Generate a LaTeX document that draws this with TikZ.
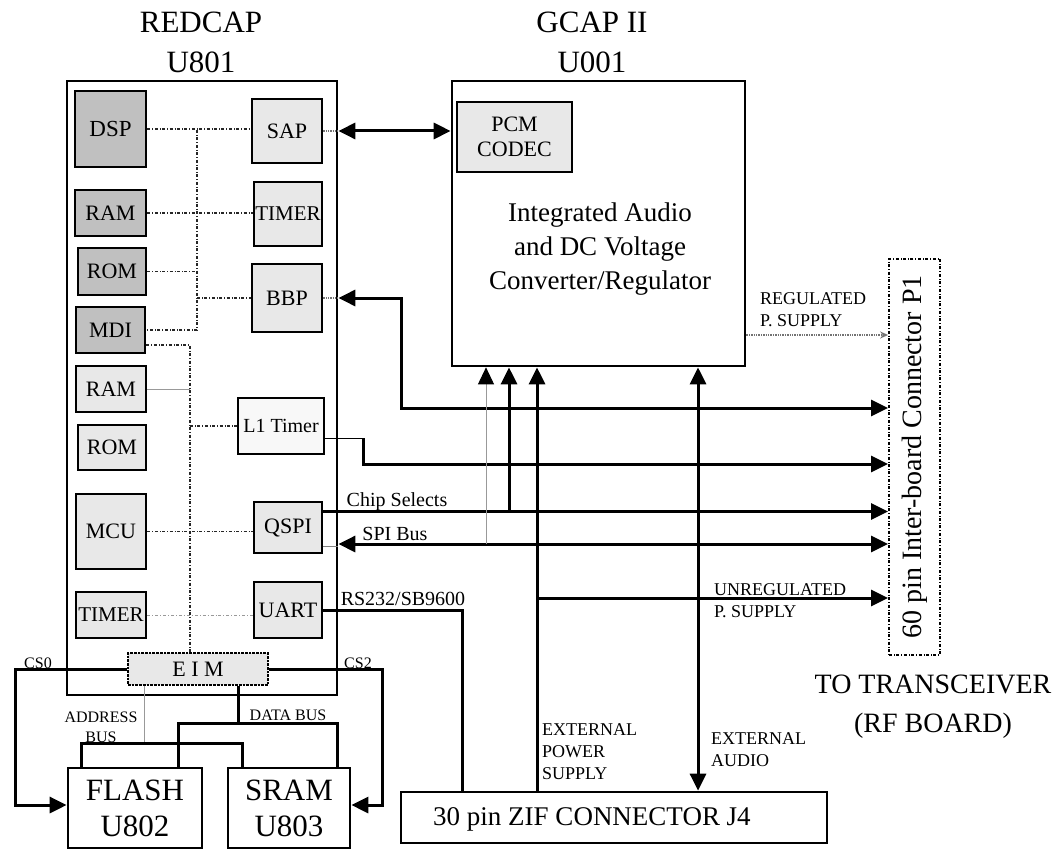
\documentclass[tikz,border=0pt]{standalone}
\usepackage{fontspec}
\setmainfont{Liberation Serif}
\usetikzlibrary{arrows.meta, calc}
\definecolor{darkBlock}{HTML}{C0C0C0}
\definecolor{lightBlock}{HTML}{E8E8E8}
\definecolor{paleBlock}{HTML}{F8F8F8}
\newcommand{\pxfont}[2]{\fontsize{#1}{#2}\selectfont}

\begin{document}
\begin{tikzpicture}[x=1pt, y=-1pt,
    >={Triangle[length=17pt, width=16pt]},
    blockbox/.style={draw, line width=2.7pt, inner sep=0pt, align=center},
    wire/.style={line width=3pt},
    bus/.style={dash dot, line width=1.5pt, black!85},
    faint/.style={line width=0.9pt, black!40},
    tag/.style={inner sep=0pt, align=left, font=\pxfont{18}{22}}]
    \useasboundingbox (0,0) rectangle (1057,850);

    \node[blockbox, minimum width=270pt, minimum height=614pt] (redcap) at (202,388) {};
    \node[align=center, font=\pxfont{31}{40}] (redcapTitle) at (201,42) {REDCAP\\U801};
    \node[blockbox, minimum width=293pt, minimum height=285pt] (gcap) at (598.5,223.5) {};
    \node[align=center, font=\pxfont{31}{40}] (gcapTitle) at (592,42) {GCAP II\\U001};
    \node[blockbox, fill=lightBlock, minimum width=115pt, minimum height=70pt, font=\pxfont{22}{25}] (pcm) at (514.5,137) {PCM\\CODEC};
    \node[align=center, font=\pxfont{27}{34}] (gcapText) at (600,249) {Integrated Audio\\and DC Voltage\\Converter/Regulator};

    \foreach \name/\cx/\cy/\w/\h/\shade/\sz/\txt in {
        dsp/110.5/129/71/76/darkBlock/23/DSP,
        ramA/110.5/213/71/46/darkBlock/22/RAM,
        romA/112/271.5/68/47/darkBlock/22/ROM,
        mdi/110.5/330/69/46/darkBlock/22/MDI,
        ramB/111/389/70/46/lightBlock/22/RAM,
        romB/112/447.5/68/45/lightBlock/22/ROM,
        mcu/111/531.5/70/75/lightBlock/22/MCU,
        timerA/111/615/70/46/lightBlock/21/TIMER,
        sap/287/131/70/64/lightBlock/22/SAP,
        timerB/288/214/68/64/lightBlock/21/TIMER,
        bbp/287/298/70/68/lightBlock/22/BBP,
        lOne/281/426/86/56/paleBlock/20/L1 Timer,
        qspi/288/527.5/68/51/lightBlock/22/QSPI,
        uart/288/610/68/56/lightBlock/22/UART}
        \node[blockbox, fill=\shade, minimum width=\w pt, minimum height=\h pt, font=\pxfont{\sz}{26}] (\name) at (\cx,\cy) {\txt};

    \node[blockbox, densely dotted, line width=1.8pt, fill=lightBlock, minimum width=140pt, minimum height=32pt, font=\pxfont{22}{26}] (eim) at (198,669) {E I M};
    \node[blockbox, minimum width=134pt, minimum height=80pt, font=\pxfont{31}{36}] (flash) at (135,808) {FLASH\\U802};
    \node[blockbox, minimum width=122pt, minimum height=80pt, font=\pxfont{31}{36}] (sram) at (289,808) {SRAM\\U803};
    \node[blockbox, minimum width=426pt, minimum height=51pt] (zif) at (614,817.5) {};
    \node[font=\pxfont{27}{32}] (zifText) at (592,819) {30 pin ZIF CONNECTOR J4};
    \node[draw, dash dot, line width=1.8pt, minimum width=51pt, minimum height=396pt] (p1) at (914.5,457) {};
    \node[rotate=90, font=\pxfont{28}{32}] (p1Text) at (p1.center) {60 pin Inter-board Connector P1};
    \node[align=center, font=\pxfont{28}{39}] (rfBoard) at (933,707) {TO TRANSCEIVER\\(RF BOARD)};

    \coordinate (busN) at (197,130);
    \coordinate (busS) at (190,345);
    \draw[bus] (dsp.east) -- (dsp.east -| sap.west);
    \draw[bus] (busN) -- (busN |- mdi.east) -- (mdi.east);
    \draw[bus] (ramA.east) -- (ramA.east -| timerB.west);
    \draw[bus] (romA.east) -- (romA.east -| busN);
    \draw[bus] (busN |- bbp.west) -- (bbp.west);
    \draw[bus, line width=2pt] ([yshift=-15pt]mdi.east) -- (busS) -- (busS |- eim.north);
    \draw[faint] (ramB.east) -- (ramB.east -| busS);
    \draw[bus] (busS |- lOne.west) -- (lOne.west);
    \draw[bus] (mcu.east) -- (mcu.east -| qspi.west);
    \draw[faint, dash dot] (timerA.east) -- (timerA.east -| uart.west);

    \draw[densely dotted, line width=1.3pt, black!55] (sap.east) -- (sap.east -| redcap.east);
    \draw[wire, <->] (sap.east -| redcap.east) -- (sap.east -| gcap.west);
    \coordinate (bbpTurn) at (401,408);
    \draw[densely dotted, line width=1.3pt, black!55] (bbp.east) -- (bbp.east -| redcap.east);
    \draw[wire, <->] (bbp.east -| redcap.east) -| (bbpTurn) -- (bbpTurn -| p1.west);
    \coordinate (lOneTurn) at (363,464);
    \draw[line width=1pt] ([yshift=-12pt]lOne.east) -- ([yshift=-12pt]lOne.east -| lOneTurn);
    \draw[wire, ->] ([yshift=-12pt]lOne.east -| lOneTurn) -- (lOneTurn) -- (lOneTurn -| p1.west);
    \coordinate (csBranch) at (509,511.5);
    \draw[wire, ->] ([yshift=16pt]qspi.east) -- ([yshift=16pt]qspi.east -| p1.west);
    \draw[wire, ->] (csBranch) -- (csBranch |- gcap.south);
    \coordinate (spiTap) at (486,544);
    \draw[line width=0.9pt, black!50] ([yshift=-19pt]qspi.east) -- ([yshift=-19pt]qspi.east -| redcap.east);
    \draw[wire, <->] (spiTap -| redcap.east) -- (spiTap -| p1.west);
    \draw[faint, -{Triangle[length=17pt, width=16pt, color=black]}] (spiTap) -- (spiTap |- gcap.south);
    \coordinate (pwrBranch) at (537,598);
    \draw[wire, ->] (pwrBranch |- zif.north) -- (pwrBranch |- gcap.south);
    \draw[wire, ->] (pwrBranch) -- (pwrBranch -| p1.west);
    \coordinate (audioTap) at (698,600);
    \draw[wire, <->] (audioTap |- gcap.south) -- (audioTap |- zif.north);
    \coordinate (uartTurn) at (462,612);
    \draw[wire] (uart.east) -| (uartTurn |- zif.north);
    \coordinate (regTap) at (745,335);
    \draw[densely dotted, line width=1.4pt, black!55, -{Stealth[length=8pt, width=7pt]}] (regTap -| gcap.east) -- (regTap -| p1.west);

    \node[tag, align=center, font=\pxfont{16}{20}] (addrLabel) at (101,727) {ADDRESS\\BUS};
    \coordinate (csZero) at (15,805);
    \coordinate (csTwo) at (382,805);
    \draw[wire, ->] (eim.west) -| (csZero) -- (csZero -| flash.west);
    \draw[wire, ->] (eim.east) -| (csTwo) -- (csTwo -| sram.east);
    \coordinate (dataTap) at (238,723);
    \coordinate (dataL) at (178,723);
    \coordinate (dataR) at (337,723);
    \draw[wire] (eim.south -| dataTap) -- (dataTap);
    \draw[wire] (flash.north -| dataL) -- (dataL) -- (dataR) -- (sram.north -| dataR);
    \coordinate (addrTap) at (144,743);
    \coordinate (addrL) at (81,743);
    \coordinate (addrR) at (242,743);
    \draw[faint] (eim.south -| addrTap) -- (addrTap);
    \draw[wire] (flash.north -| addrL) -- (addrL) -- (addrR) -- (sram.north -| addrR);

    \node[tag, anchor=west] (regLabel) at (760,310) {REGULATED\\P. SUPPLY};
    \node[tag, anchor=west] (unregLabel) at (714,601) {UNREGULATED\\P. SUPPLY};
    \node[tag, anchor=west] (extPower) at (542,752) {EXTERNAL\\POWER\\SUPPLY};
    \node[tag, anchor=west] (extAudio) at (711,750) {EXTERNAL\\AUDIO};
    \node[tag, font=\pxfont{20}{24}] (chipLabel) at (397,502) {Chip Selects};
    \node[tag, font=\pxfont{20}{24}] (spiLabel) at (395,534) {SPI Bus};
    \node[tag, font=\pxfont{20}{24}] (rsLabel) at (403,599) {RS232/SB9600};
    \node[tag, font=\pxfont{16}{20}] (csZeroLabel) at (38,663) {CS0};
    \node[tag, font=\pxfont{16}{20}] (csTwoLabel) at (358,663) {CS2};
    \node[tag, font=\pxfont{16}{20}] (dataLabel) at (288,715) {DATA BUS};
\end{tikzpicture}
\end{document}
